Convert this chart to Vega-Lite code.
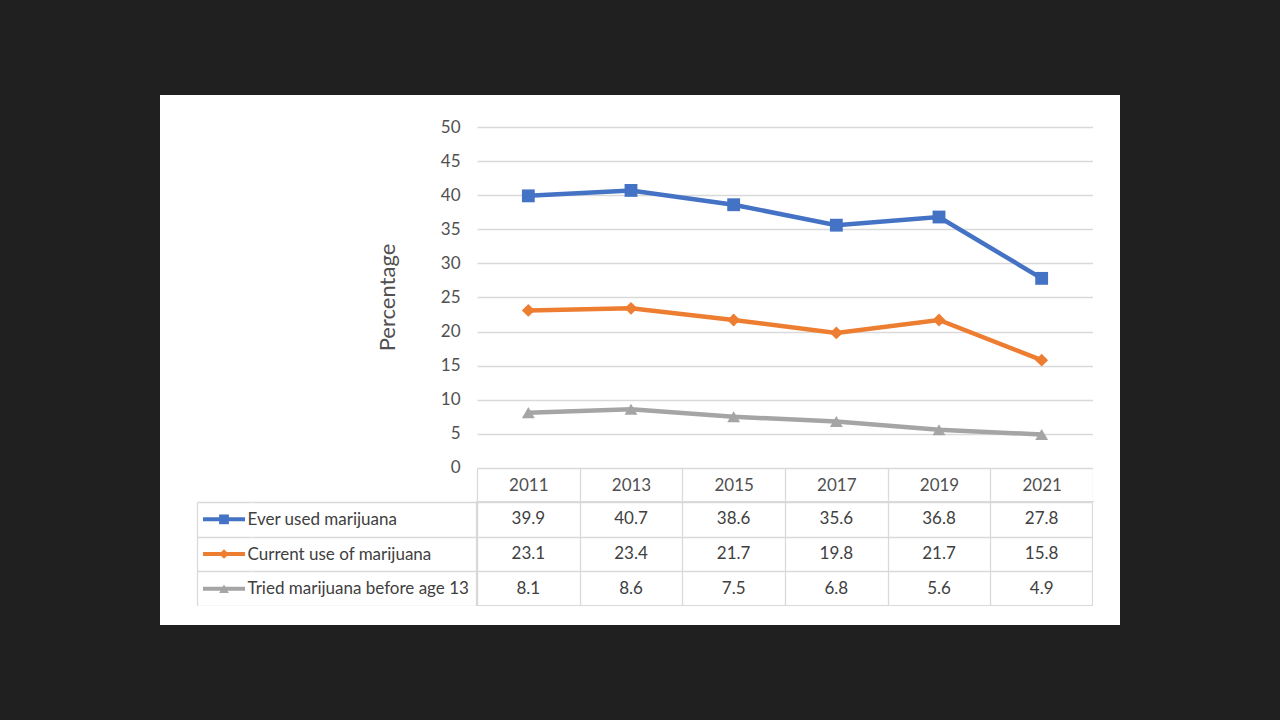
{
  "$schema": "https://vega.github.io/schema/vega-lite/v6.json",
  "background": "#202020",
  "padding": {"left": 160, "top": 95, "right": 160, "bottom": 95},
  "config": {
    "font": "Lato",
    "view": {"fill": "white", "stroke": null},
    "axis": {"labelColor": "#505050", "titleColor": "#505050", "labelFontSize": 17, "titleFontSize": 22, "titleFontWeight": "normal", "labelFont": "Lato", "titleFont": "Lato"}
  },
  "datasets": {
    "blank": [{}],
    "trend": [
      {"year": "2011", "series": "Ever used marijuana", "value": 39.9},
      {"year": "2013", "series": "Ever used marijuana", "value": 40.7},
      {"year": "2015", "series": "Ever used marijuana", "value": 38.6},
      {"year": "2017", "series": "Ever used marijuana", "value": 35.6},
      {"year": "2019", "series": "Ever used marijuana", "value": 36.8},
      {"year": "2021", "series": "Ever used marijuana", "value": 27.8},
      {"year": "2011", "series": "Current use of marijuana", "value": 23.1},
      {"year": "2013", "series": "Current use of marijuana", "value": 23.4},
      {"year": "2015", "series": "Current use of marijuana", "value": 21.7},
      {"year": "2017", "series": "Current use of marijuana", "value": 19.8},
      {"year": "2019", "series": "Current use of marijuana", "value": 21.7},
      {"year": "2021", "series": "Current use of marijuana", "value": 15.8},
      {"year": "2011", "series": "Tried marijuana before age 13", "value": 8.1},
      {"year": "2013", "series": "Tried marijuana before age 13", "value": 8.6},
      {"year": "2015", "series": "Tried marijuana before age 13", "value": 7.5},
      {"year": "2017", "series": "Tried marijuana before age 13", "value": 6.8},
      {"year": "2019", "series": "Tried marijuana before age 13", "value": 5.6},
      {"year": "2021", "series": "Tried marijuana before age 13", "value": 4.9}
    ]
  },
  "columns": 5,
  "spacing": 0,
  "bounds": "flush",
  "concat": [
    {"data": {"name": "blank"}, "mark": {"type": "rect", "color": "white"}, "width": 37, "height": 32},
    {"data": {"name": "blank"}, "mark": {"type": "rect", "color": "white"}, "width": 54, "height": 32},
    {"data": {"name": "blank"}, "mark": {"type": "rect", "color": "white"}, "width": 226, "height": 32},
    {"data": {"name": "blank"}, "mark": {"type": "rect", "color": "white"}, "width": 616, "height": 32},
    {"data": {"name": "blank"}, "mark": {"type": "rect", "color": "white"}, "width": 27, "height": 32},

    {"data": {"name": "blank"}, "mark": {"type": "rect", "color": "white"}, "width": 37, "height": 375},
    {"data": {"name": "blank"}, "mark": {"type": "rect", "color": "white"}, "width": 54, "height": 375},
    {"data": {"name": "blank"}, "mark": {"type": "rect", "color": "white"}, "width": 226, "height": 375},
    {
      "data": {"name": "trend"},
      "width": 616,
      "height": 375,
      "encoding": {
        "x": {
          "field": "year", "type": "ordinal",
          "scale": {"type": "band", "paddingInner": 0, "paddingOuter": 0},
          "axis": {"title": null, "orient": "bottom", "domain": true, "domainColor": "#d9d9d9", "ticks": true, "tickBand": "extent", "tickSize": -34, "tickColor": "#d9d9d9", "tickWidth": 1.3, "labelAngle": 0, "labelBaseline": "middle", "labelPadding": 17, "grid": false}
        },
        "y": {
          "field": "value", "type": "quantitative",
          "scale": {"domain": [-5, 50], "nice": false, "zero": false},
          "axis": {"title": "Percentage", "titleY": 170, "values": [0, 5, 10, 15, 20, 25, 30, 35, 40, 45, 50], "grid": true, "gridColor": "#d9d9d9", "gridWidth": 1.5, "domain": false, "ticks": false, "labelPadding": 17, "titlePadding": 41}
        },
        "color": {
          "field": "series", "type": "nominal",
          "scale": {"domain": ["Ever used marijuana", "Current use of marijuana", "Tried marijuana before age 13"], "range": ["#4472C4", "#ED7D31", "#A5A5A5"]},
          "legend": null
        }
      },
      "layer": [
        {"mark": {"type": "line", "strokeWidth": 4.5}},
        {
          "mark": {"type": "point", "filled": true, "opacity": 1, "size": 165},
          "encoding": {
            "shape": {
              "field": "series", "type": "nominal",
              "scale": {"domain": ["Ever used marijuana", "Current use of marijuana", "Tried marijuana before age 13"], "range": ["square", "diamond", "triangle-up"]},
              "legend": null
            }
          }
        }
      ]
    },
    {"data": {"name": "blank"}, "mark": {"type": "rect", "color": "white"}, "width": 27, "height": 375},

    {"data": {"name": "blank"}, "mark": {"type": "rect", "color": "white"}, "width": 37, "height": 104},
    {
      "data": {"name": "trend"},
      "transform": [{"filter": "datum.year == '2011'"}],
      "width": 54,
      "height": 104,
      "encoding": {
        "y": {
          "field": "series", "type": "nominal",
          "sort": ["Ever used marijuana", "Current use of marijuana", "Tried marijuana before age 13"],
          "scale": {"type": "band", "paddingInner": 0, "paddingOuter": 0},
          "axis": {"title": null, "labels": false, "ticks": false, "domain": true, "domainColor": "#d9d9d9", "domainWidth": 1.3, "grid": true, "gridColor": "#d9d9d9", "gridWidth": 1.3, "tickBand": "extent"}
        },
        "color": {"field": "series", "type": "nominal", "legend": null}
      },
      "layer": [
        {"mark": {"type": "tick", "orient": "horizontal", "size": 42, "thickness": 4, "opacity": 1}},
        {
          "mark": {"type": "point", "filled": true, "opacity": 1, "size": 95},
          "encoding": {"shape": {"field": "series", "type": "nominal", "legend": null}}
        }
      ]
    },
    {
      "data": {"name": "trend"},
      "transform": [{"filter": "datum.year == '2011'"}],
      "width": 226,
      "height": 104,
      "mark": {"type": "point", "opacity": 0},
      "encoding": {
        "y": {
          "field": "series", "type": "nominal",
          "sort": ["Ever used marijuana", "Current use of marijuana", "Tried marijuana before age 13"],
          "scale": {"type": "band", "paddingInner": 0, "paddingOuter": 0},
          "axis": {"title": null, "orient": "left", "labelAlign": "left", "labelBaseline": "middle", "labelPadding": 4, "ticks": false, "tickSize": 0, "domain": false, "grid": true, "gridColor": "#d9d9d9", "gridWidth": 1.3, "tickBand": "extent", "labelColor": "#404040", "labelLimit": 0}
        }
      }
    },
    {
      "data": {"name": "trend"},
      "width": 616,
      "height": 104,
      "view": {"stroke": "#d9d9d9", "strokeWidth": 2.2},
      "mark": {"type": "text", "fontSize": 17, "color": "#404040"},
      "encoding": {
        "x": {
          "field": "year", "type": "ordinal",
          "scale": {"type": "band", "paddingInner": 0, "paddingOuter": 0},
          "axis": {"title": null, "labels": false, "ticks": false, "domain": false, "grid": true, "gridColor": "#d9d9d9", "gridWidth": 1.3, "tickBand": "extent"}
        },
        "y": {
          "field": "series", "type": "nominal",
          "sort": ["Ever used marijuana", "Current use of marijuana", "Tried marijuana before age 13"],
          "scale": {"type": "band", "paddingInner": 0, "paddingOuter": 0},
          "axis": {"title": null, "labels": false, "ticks": false, "domain": false, "grid": true, "gridColor": "#d9d9d9", "gridWidth": 1.3, "tickBand": "extent"}
        },
        "text": {"field": "value", "type": "quantitative", "format": ".1f"}
      }
    },
    {"data": {"name": "blank"}, "mark": {"type": "rect", "color": "white"}, "width": 27, "height": 104},

    {"data": {"name": "blank"}, "mark": {"type": "rect", "color": "white"}, "width": 37, "height": 19},
    {"data": {"name": "blank"}, "mark": {"type": "rect", "color": "white"}, "width": 54, "height": 19},
    {"data": {"name": "blank"}, "mark": {"type": "rect", "color": "white"}, "width": 226, "height": 19},
    {"data": {"name": "blank"}, "mark": {"type": "rect", "color": "white"}, "width": 616, "height": 19},
    {"data": {"name": "blank"}, "mark": {"type": "rect", "color": "white"}, "width": 27, "height": 19}
  ]
}
